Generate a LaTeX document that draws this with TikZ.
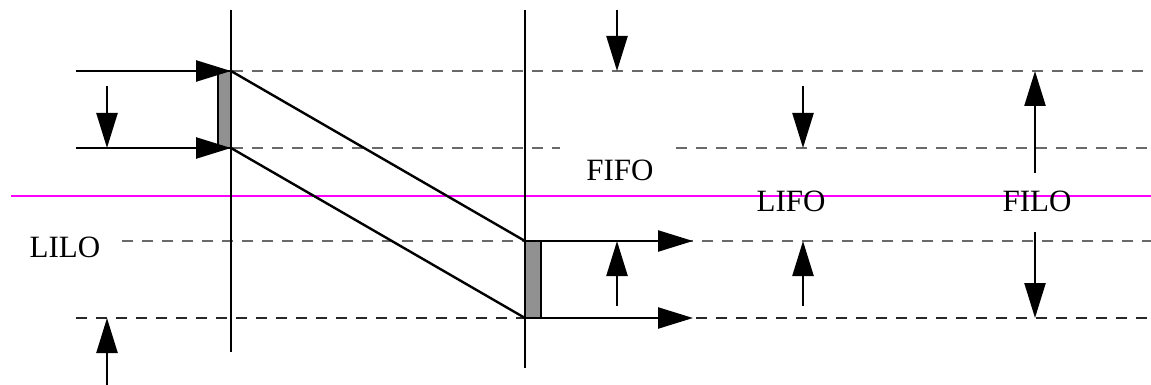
\documentclass[tikz,border=0pt]{standalone}
\usepackage{fontspec}
\setmainfont{Liberation Serif}
\usetikzlibrary{arrows.meta}
\definecolor{dashgray}{RGB}{105,105,105}
\definecolor{boxgray}{RGB}{145,145,145}
\definecolor{magline}{RGB}{255,0,255}
\begin{document}
\begin{tikzpicture}[x=1pt,y=-1pt,
  solidline/.style={line width=2.4pt,black},
  arr/.style={line width=2.4pt,-{Triangle[length=35pt,width=21pt]}},
  guide/.style={line width=1.3pt,dashgray,dash pattern=on 11pt off 9pt},
  guidedark/.style={line width=1.3pt,black!85,dash pattern=on 11pt off 9pt},
  buf/.style={draw=black,line width=2.4pt,fill=boxgray},
  lbl/.style={inner sep=0pt,anchor=base,font=\fontsize{31}{36}\selectfont}]
\useasboundingbox (0,0) rectangle (1151,385);
% coordinates
\coordinate (LT) at (231,10);  \coordinate (LB) at (231,352);
\coordinate (RT) at (525,10);  \coordinate (RB) at (525,368);
\coordinate (in1s) at (76,71);  \coordinate (in1e) at (231,71);
\coordinate (in2s) at (76,148); \coordinate (in2e) at (231,148);
\coordinate (o1s) at (541,241); \coordinate (o1e) at (693,241);
\coordinate (o2s) at (541,318); \coordinate (o2e) at (693,318);
\coordinate (rA) at (525,241); \coordinate (rB) at (525,318);
% dashed guides
\coordinate (g1a) at (232,71);  \coordinate (g1b) at (1151,71);
\coordinate (g2a) at (232,148); \coordinate (g2b) at (560,148);
\coordinate (g2c) at (676,148); \coordinate (g2d) at (1151,148);
\coordinate (g3a) at (122,241); \coordinate (g3b) at (1151,241);
\coordinate (g4a) at (76,318);  \coordinate (g4b) at (1151,318);
\draw[guide] (g1a) -- (g1b);
\draw[guide] (g2a) -- (g2b);
\draw[guide] (g2c) -- (g2d);
\draw[guide] (g3a) -- (g3b);
\draw[guidedark] (g4a) -- (g4b);
% magenta line
\coordinate (m1) at (11,196); \coordinate (m2) at (1151,196);
\draw[magline,line width=2.2pt] (m1) -- (m2);
% vertical lines
\draw[solidline] (LT) -- (LB);
\draw[solidline] (RT) -- (RB);
% buffers
\draw[buf] (218,71) rectangle (231,148);
\draw[buf] (525,241) rectangle (541,318);
% diagonals
\draw[solidline] (in1e) -- (rA);
\draw[solidline] (in2e) -- (rB);
% input/output arrows
\draw[arr] (in1s) -- (in1e);
\draw[arr] (in2s) -- (in2e);
\draw[arr] (o1s) -- (o1e);
\draw[arr] (o2s) -- (o2e);
% small indicator arrows
\coordinate (a1s) at (107,86);  \coordinate (a1e) at (107,148);
\coordinate (a2s) at (107,385); \coordinate (a2e) at (107,318);
\coordinate (a3s) at (617,10);  \coordinate (a3e) at (617,71);
\coordinate (a4s) at (617,306); \coordinate (a4e) at (617,241);
\coordinate (a5s) at (803,86);  \coordinate (a5e) at (803,148);
\coordinate (a6s) at (803,306); \coordinate (a6e) at (803,241);
\coordinate (a7s) at (1035,173); \coordinate (a7e) at (1035,71);
\coordinate (a8s) at (1035,232); \coordinate (a8e) at (1035,318);
\foreach \i in {1,...,8}{\draw[arr] (a\i s) -- (a\i e);}
% labels
\node[lbl] (fifo) at (620,180) {FIFO};
\node[lbl] (lifo) at (791,211) {LIFO};
\node[lbl] (filo) at (1037,211) {FILO};
\node[lbl] (lilo) at (65,257) {LILO};
\end{tikzpicture}
\end{document}
